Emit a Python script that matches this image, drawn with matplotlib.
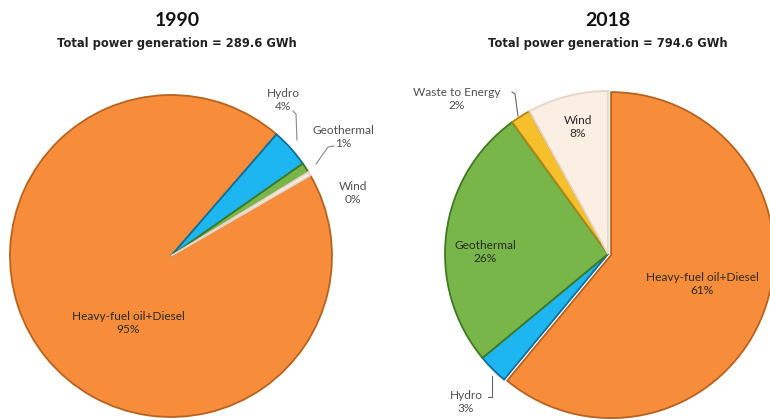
import matplotlib
matplotlib.use("Agg")
import matplotlib.pyplot as plt

plt.rcParams['font.family'] = ['Lato', 'DejaVu Sans']

W, H = 770, 420

# Generation mix, share of total (%)
cats_1990 = ["Heavy-fuel oil+Diesel", "Hydro", "Geothermal", "Wind"]
vals_1990 = [94.7, 3.9, 1.0, 0.4]
total_1990 = 289.6

cats_2018 = ["Heavy-fuel oil+Diesel", "Hydro", "Geothermal", "Waste to Energy", "Wind"]
vals_2018 = [61, 3, 26, 2, 8]
total_2018 = 794.6

face = {
    "Heavy-fuel oil+Diesel": "#F78D3B",
    "Hydro": "#1DB6F0",
    "Geothermal": "#78B64A",
    "Waste to Energy": "#F6C02C",
    "Wind": "#FBEEE2",
}
edge = {
    "Heavy-fuel oil+Diesel": "#B8621F",
    "Hydro": "#0E6E96",
    "Geothermal": "#3F7A22",
    "Waste to Energy": "#B08516",
    "Wind": "#E6D5C4",
}

fig = plt.figure(figsize=(W / 100, H / 100), dpi=100)
fig.patch.set_facecolor("white")


def pie_axes(cx, cy, r):
    pad = 1.1
    ax = fig.add_axes([(cx - pad * r) / W, (H - cy - pad * r) / H,
                       2 * pad * r / W, 2 * pad * r / H])
    return ax


def draw_pie(ax, cats, vals, start, explode):
    wedges, _ = ax.pie(vals, startangle=start, counterclock=False,
                       colors=[face[c] for c in cats], explode=explode,
                       wedgeprops=dict(linewidth=1.3))
    for w, c in zip(wedges, cats):
        w.set_edgecolor(edge[c])
        w.set_clip_on(False)
    ax.set_xlim(-1.1, 1.1)
    ax.set_ylim(-1.1, 1.1)
    ax.set_aspect("equal")
    ax.axis("off")


ax1 = pie_axes(171, 256, 161)
draw_pie(ax1, cats_1990, vals_1990, 30, [0, 0, 0, 0])

ax2 = pie_axes(608, 254, 163)
draw_pie(ax2, cats_2018, vals_2018, 90, [0.02, 0, 0, 0, 0])

# Overlay in pixel coordinates for titles, labels and leader lines
ov = fig.add_axes([0, 0, 1, 1])
ov.set_xlim(0, W)
ov.set_ylim(H, 0)
ov.axis("off")
ov.patch.set_visible(False)

sub_font = ['DejaVu Sans']
ov.text(177, 21, "1990", ha="center", va="center", fontsize=14, fontweight="bold", color="#111111")
ov.text(177, 43, f"Total power generation = {total_1990} GWh", ha="center", va="center",
        fontsize=8.3, fontweight="bold", color="#222222", family=sub_font)
ov.text(608, 21, "2018", ha="center", va="center", fontsize=14, fontweight="bold", color="#111111")
ov.text(608, 43, f"Total power generation = {total_2018} GWh", ha="center", va="center",
        fontsize=8.3, fontweight="bold", color="#222222", family=sub_font)


def label(x, y, cat, val, inside=True):
    ov.text(x, y, f"{cat}\n{val:.0f}%", ha="center", va="center", fontsize=8.6,
            linespacing=1.3, color="#2a2a2a" if inside else "#505050")


# 1990 labels
label(128, 323, cats_1990[0], vals_1990[0])
label(283, 100, cats_1990[1], vals_1990[1], inside=False)
label(343, 137, cats_1990[2], vals_1990[2], inside=False)
label(353, 193, cats_1990[3], vals_1990[3], inside=False)
ov.plot([293, 296, 297], [111, 114, 140], color="#888888", lw=0.8)
ov.plot([334, 328, 316], [146, 147, 164], color="#888888", lw=0.8)

# 2018 labels
label(702, 284, cats_2018[0], vals_2018[0])
label(466, 402, cats_2018[1], vals_2018[1], inside=False)
label(485, 252, cats_2018[2], vals_2018[2])
label(457, 99, cats_2018[3], vals_2018[3], inside=False)
label(578, 127, cats_2018[4], vals_2018[4])
ov.plot([512, 515, 518], [92, 94, 116], color="#666666", lw=0.8)
ov.plot([488, 492, 492], [397, 397, 376], color="#666666", lw=0.8)

fig.savefig("out.png", dpi=100)
